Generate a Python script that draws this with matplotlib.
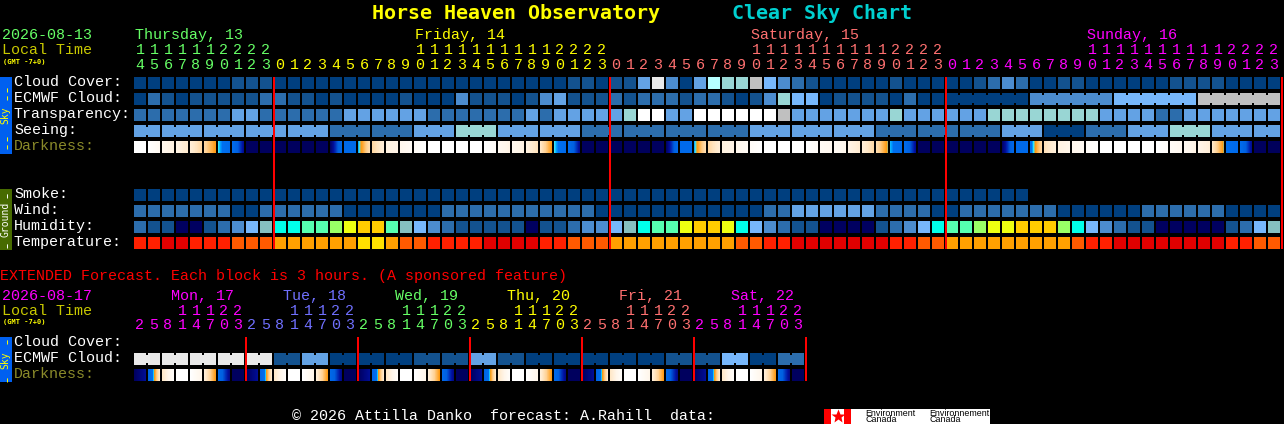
import matplotlib
matplotlib.use('Agg')
import matplotlib.pyplot as plt
import numpy as np
from matplotlib.colors import LinearSegmentedColormap
from matplotlib.patches import Rectangle

plt.rcParams['font.family'] = ['Liberation Mono', 'DejaVu Sans Mono']

# sky levels, dark blue -> white
SKY = ['#003f7f', '#13528f', '#2c6dac', '#4c8cce', '#63a2e4', '#77b7fb',
       '#99d6d4', '#b6ffff', '#c0c0c0', '#e9e9e9', '#ffffff']
HUM = {'n': '#000060', '1': '#13528f', '2': '#2c6dac', '3': '#4c8cce', '5': '#77b7fb',
       't': '#85c0c0', 'c': '#00ffea', 'm': '#55ffb0', 'l': '#99ff66', 'y': '#eeff11', 'g': '#ffcc00'}
TEMP = {'D': '#e00000', 'R': '#ff2000', 'O': '#ff5a00', 'A': '#ffa000', 'Y': '#ffe000'}

cloud = [0,0,0,0,0,0,0,1,1,1, 0,0,0,0,0,0,0,0,0,0, 0,0,0,0,0,0,0,0,0,0,
         0,1,1,0,1,1,4,9,3,0, 4,7,6,6,8,5,3,2,1,0, 0,0,0,0,1,0,0,0,0,0,
         1,2,3,2,0,0,1,1,0,0, 0,0,0,0,1,1,1,1,0,0, 0,0]
ecmwf = [0,2,1,0,1,1,1,1,1,2, 2,1,1,0,1,0,0,0,0,1, 0,0,0,3,1,1,1,0,1,3,
         4,1,1,1,2,1,2,2,2,1, 2,2,1,0,1,3,6,5,5,0, 1,1,1,1,0,2,0,0]
ecmwf_long = [0, 3, 5, 8]
transparency = [2,2,2,2,2,2,2,4,4,2, 2,2,2,2,2,4,4,4,4,4, 4,2,2,2,2,2,2,2,4,2,
                4,4,4,4,4,6,10,10,4,4, 10,10,10,10,10,10,8,4,4,4, 4,4,4,4,6,4,4,4,4,4,
                4,6,6,6,6,6,6,6,6,4, 4,4,4,2,2,4,4,4,4,4, 4,4]
seeing = [4,4,4,4,4,2,2,4, 6,4,4,2,2,2,2,4,4, 4,2,2,2,4,0,2,4,6,4,4]
seeing_spans = [2,3,3,3,3,3,3,3, 3,3,3,3,3,3,3,3,3, 3,3,3,3,3,3,3,3,3,3,2]
smoke = [0] * 64
wind = [2,2,2,2,2,2,2,0,0,2, 2,2,2,2,2,0,0,0,0,0, 0,0,2,2,2,2,2,2,2,2,
        2,2,2,0,0,0,0,0,0,0, 0,0,0,0,0,2,2,4,4,4, 4,4,4,2,2,2,2,0,0,2,
        2,2,2,2,2,2,0,0,0,0, 0,0,2,2,2,2,2,2,0,0, 0,0]
humidity = list('211nn1235t' 'ccmmlyggmt5' '3211111n11' '2335tcmmyg' 'gyc53211nn'
                'nn1235cmml' 'yyggglc532' '11nnnnn125t')
temperature = list('RRDDRRROOO' 'AAAAAAYYAOO' 'RRRRDDDD' 'RROOO' 'AAAAAAAAA' 'OORR' 'DDDDDDD'
                   'RROO' 'AAAAAAAAA' 'ORR' 'DDDDDDDD' 'RROO')

# darkness, (left, right) position on the ramp for every block
darkness = [(0,0),(0,.05),(.07,.1),(.09,.14),(.12,.2),(.2,.3),(.33,.42),(.4,.7),(.8,.8),(.82,.82),
            (.85,.85),(.82,.82),(.85,.85),(.82,.82),(.78,.45),(.42,.42),(.34,.18),(.2,.12),(.1,.09),(.07,.04),
            (.03,0),(0,0),(0,0),(0,0),(0,0),(0,.03),(.05,.09),(.06,.1),(.1,.17),(.15,.3),
            (.33,.42),(.4,.7),(.82,.82),(.85,.85),(.85,.85),(.82,.82),(.85,.85),(.82,.82),(.78,.45),(.42,.42),
            (.34,.18),(.2,.12),(.1,.09),(.07,.04),(.03,0),(0,0),(0,0),(0,0),(0,.03),(.04,.06),
            (.04,.07),(.09,.13),(.12,.19),(.18,.31),(.34,.42),(.4,.7),(.82,.82),(.85,.85),(.85,.85),(.82,.82),
            (.85,.85),(.82,.82),(.78,.45),(.42,.42),(.38,.2),(.17,.11),(.1,.08),(.07,.05),(.03,.01),(0,0),
            (0,0),(0,0),(0,0),(0,.02),(.03,.06),(.05,.09),(.08,.12),(.15,.31),(.37,.42),(.4,.7),
            (.82,.82),(.85,.85)]

ext_ecmwf = [9,9,9,9,9,1,4,0,0,0,1,1,4,1,0,0,0,0,0,1,1,5,0,2]
ext_day_dark = [(.8,.7),(.5,.14),(.15,.02),(0,0),(0,.08),(.12,.3),(.45,.72),(.82,.82)]
ext_darkness = ext_day_dark * 6

main_hours = [14,15,16,17,18,19,20,21,22,23] + list(range(24)) * 3
ext_hours = [2,5,8,11,14,17,20,23] * 6
main_day_cols = [10, 24, 24, 24]
main_day_names = ['Thursday, 13', 'Friday, 14', 'Saturday, 15', 'Sunday, 16']
main_day_colors = ['#66ff66', '#ffff00', '#ff7070', '#ff00ff']
ext_day_names = ['Mon, 17', 'Tue, 18', 'Wed, 19', 'Thu, 20', 'Fri, 21', 'Sat, 22']
ext_day_colors = ['#ff00ff', '#7070ff', '#66ff66', '#ffff00', '#ff7070', '#ff00ff']

ramp = LinearSegmentedColormap.from_list('dark', [
    (0, '#ffffff'), (.08, '#fff6ea'), (.15, '#ffe8c8'), (.22, '#ffd090'), (.3, '#ff9a10'),
    (.33, '#30e8ff'), (.345, '#00a0ff'), (.36, '#0070f0'), (.55, '#0060e0'), (.68, '#0010a0'),
    (.8, '#000060'), (1, '#000050')])

X0, STEP, W, H = 134, 14, 12, 12


def rect(ax, x, y, w, h, color, **kw):
    ax.add_patch(Rectangle((x, y), w, h, fc=color, ec='none', snap=False, **kw))


def block(ax, col, y, color):
    rect(ax, X0 + STEP * col, y, W, H, color)


def joined(ax, start, count, y, color):
    # blocks which share a forecast value, with a narrower neck between them
    for i in range(count):
        block(ax, start + i, y, color)
        if i < count - 1:
            rect(ax, X0 + STEP * (start + i) + W, y + 2, STEP - W, H - 4, color)


def dark_row(ax, values, y):
    for col, (a, b) in enumerate(values):
        x = X0 + STEP * col
        ax.imshow(np.linspace(a, b, W).reshape(1, -1), cmap=ramp, vmin=0, vmax=1, aspect='auto',
                  interpolation='nearest', extent=(x, x + W, y + H, y))


def label(ax, x, y, s, color='white', size=10.8, **kw):
    # y is the text baseline
    kw.setdefault('ha', 'left')
    kw.setdefault('va', 'baseline')
    ax.text(x, y, s, color=color, fontsize=size, **kw)


def hour_labels(ax, hours, colors, y_tens, y_ones):
    for col, hour in enumerate(hours):
        x = X0 + STEP * col + 6
        if hour >= 10:
            label(ax, x, y_tens, str(hour // 10), colors[col], ha='center')
        label(ax, x, y_ones, str(hour % 10), colors[col], ha='center')


def side_strip(ax, y0, y1, fc, tc, name, y_name, dash_ys, dash):
    rect(ax, 0, y0, 12, y1 - y0, fc)
    label(ax, 5.5, y_name, name, tc, size=7, ha='center', va='center', rotation=90, family='DejaVu Sans Mono')
    for y in dash_ys:
        label(ax, 5.5, y, dash, tc, ha='center', va='center', rotation=90)


fig = plt.figure(figsize=(12.84, 4.24), dpi=100, facecolor='black')
ax = fig.add_axes([0, 0, 1, 1])
ax.set_facecolor('black')

# title
label(ax, 372, 19, 'Horse Heaven Observatory', '#ffff00', size=14.4, fontweight='bold', family='DejaVu Sans Mono')
label(ax, 732, 19, 'Clear Sky Chart', '#00d0d0', size=14.4, fontweight='bold', family='DejaVu Sans Mono')

# main chart header
label(ax, 2, 39, '2026-08-13', '#66ff66')
label(ax, 2, 54, 'Local Time', '#c8c800')
label(ax, 3, 64, '(GMT -7+0)', '#ffff00', size=5, fontweight='bold', family='DejaVu Sans Mono')
col = 0
hour_colors = []
for n, name, color in zip(main_day_cols, main_day_names, main_day_colors):
    hour_colors += [color] * n
    first = col if col == 0 else col + 10
    label(ax, X0 + STEP * first + 1, 39, name, color)
    col += n
hour_labels(ax, main_hours, hour_colors, 54, 69)

# sky rows
side_strip(ax, 77, 154, '#0060f0', '#ffff00', 'Sky', 115, [91, 140], '--')
names = ['Cloud Cover:', 'ECMWF Cloud:', 'Transparency:', 'Seeing:']
for i, name in enumerate(names):
    label(ax, 14, 86 + 16 * i, name)
label(ax, 14, 150, 'Darkness:', '#8a8a2a')
for c, v in enumerate(cloud):
    block(ax, c, 77, SKY[v])
for c, v in enumerate(ecmwf):
    block(ax, c, 93, SKY[v])
for g, v in enumerate(ecmwf_long):
    joined(ax, 58 + 6 * g, 6, 93, SKY[v])
for c, v in enumerate(transparency):
    block(ax, c, 109, SKY[v])
start = 0
for span, v in zip(seeing_spans, seeing):
    joined(ax, start, span, 125, SKY[v])
    start += span
dark_row(ax, darkness, 141)

# ground rows
side_strip(ax, 189, 250, '#476b00', '#ffffff', 'Ground', 219, [193, 243], '-')
for i, name in enumerate(['Smoke:', 'Wind:', 'Humidity:', 'Temperature:']):
    label(ax, 14, 198 + 16 * i, name)
for c, v in enumerate(smoke):
    block(ax, c, 189, SKY[v])
for c, v in enumerate(wind):
    block(ax, c, 205, SKY[v])
for c, v in enumerate(humidity):
    block(ax, c, 221, HUM[v])
for c, v in enumerate(temperature):
    block(ax, c, 237, TEMP[v])

for c in [10, 34, 58, 82]:
    rect(ax, X0 + STEP * c - 1, 77, 2, 172, '#ff0000', zorder=3)

# extended forecast
label(ax, 0, 280, 'EXTENDED Forecast. Each block is 3 hours. (A sponsored feature)', '#ff0000')
label(ax, 2, 300, '2026-08-17', '#ff00ff')
label(ax, 2, 315, 'Local Time', '#c8c800')
label(ax, 3, 324, '(GMT -7+0)', '#ffff00', size=5, fontweight='bold', family='DejaVu Sans Mono')
ext_colors = []
for d, (name, color) in enumerate(zip(ext_day_names, ext_day_colors)):
    ext_colors += [color] * 8
    label(ax, 171 + 112 * d, 300, name, color)
hour_labels(ax, ext_hours, ext_colors, 315, 329)

side_strip(ax, 337, 382, '#0060f0', '#ffff00', 'Sky', 360, [340, 377], '-')
label(ax, 14, 346, 'Cloud Cover:')
label(ax, 14, 362, 'ECMWF Cloud:')
label(ax, 14, 378, 'Darkness:', '#8a8a2a')
for g, v in enumerate(ext_ecmwf):
    joined(ax, 2 * g, 2, 353, SKY[v])
dark_row(ax, ext_darkness, 369)
for c in range(8, 49, 8):
    rect(ax, X0 + STEP * c - 1, 337, 2, 44, '#ff0000', zorder=3)

# footer
label(ax, 292, 420, '\u00a9 2026 Attilla Danko  forecast: A.Rahill  data:')
rect(ax, 824, 409, 166, 15, 'white')
rect(ax, 824, 409, 7, 15, '#ff0000')
rect(ax, 844, 409, 7, 15, '#ff0000')
ax.plot([837.5], [416], marker='*', ms=10, color='#ff0000', mec='none')
for x, word in [(865, 'Environment'), (929, 'Environnement')]:
    ax.text(x, 413, word, color='black', fontsize=6.4, family='Liberation Sans', va='center')
    ax.text(x, 420, 'Canada', color='black', fontsize=6.4, family='Liberation Sans', va='center')

ax.set_xlim(0, 1284)
ax.set_ylim(424, 0)
ax.axis('off')

fig.savefig('out.png', dpi=100, facecolor='black')
